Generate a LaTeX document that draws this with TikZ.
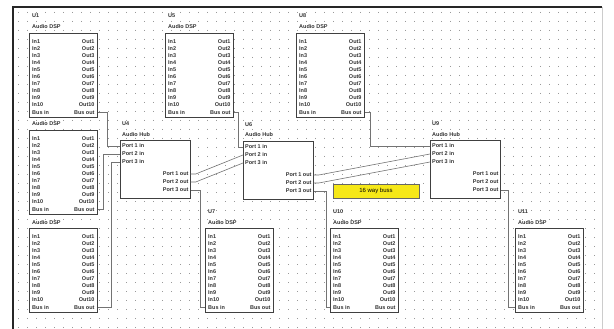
\documentclass[tikz,border=0pt]{standalone}
\usepackage{fontspec}
\setsansfont{Liberation Sans}
\usetikzlibrary{calc}
\definecolor{busyellow}{RGB}{246,232,24}

\begin{document}
\begin{tikzpicture}[x=1pt, y=-1pt, font=\sffamily]
      \tikzstyle{dsp}=[draw=black!75, line width=0.7pt, fill=white, anchor=north west, inner sep=0pt, minimum width=68pt, minimum height=84pt]
      \tikzstyle{hub}=[dsp, minimum width=70pt, minimum height=58pt]
      \tikzstyle{pin}=[inner sep=0pt, text=black!80, font=\sffamily\bfseries\fontsize{5.5}{6}\selectfont]
      \tikzstyle{title}=[pin, anchor=base west]
      \tikzstyle{wire}=[draw=black!55, line width=0.6pt]
      \tikzstyle{buslabel}=[fill=busyellow, draw=black!60, minimum width=86pt, minimum height=14pt, inner sep=0pt, font=\sffamily\fontsize{6}{7}\selectfont]
      \useasboundingbox (0,0) rectangle (614,329);
      \fill[white] (0,0) rectangle (614,329);
      % dotted grid
      \foreach \gx in {18,27,...,598}
        \draw[black!40, line width=0.9pt, dash pattern=on 0.9pt off 8.1pt] (\gx,12) -- (\gx,329);
      % window frame
      \draw[black!20] (13,7) -- (602,7) -- (602,329);
      \draw[black!85, line width=2pt] (13,329) -- (13,7) -- (602,7);
      % DSP chips
      \foreach \n/\cx/\cy/\tag in {U1/29/33/U1, U2/29/130/, U3/29/228/, U5/165/33/U5, U8/296/33/U8, U7/205/228/U7, U10/330/228/U10, U11/515/228/U11} {
        \node[dsp] (\n) at (\cx,\cy) {};
        \node[title] (\n-ref) at ($(\n.north west)+(3,-15)$) {\tag};
        \node[title] (\n-type) at ($(\n.north west)+(3,-4)$) {Audio DSP};
        \foreach \i in {1,...,10} {
          \node[pin, anchor=west] (\n-l\i) at ($(\n.north west)+(3,2+7*\i)$) {In\i};
          \node[pin, anchor=east] (\n-r\i) at ($(\n.north east)+(-3,2+7*\i)$) {Out\i};
        }
        \coordinate (\n-bin) at ($(\n.south west)+(0,-5)$);
        \coordinate (\n-bout) at ($(\n.south east)+(0,-5)$);
        \node[pin, anchor=west] (\n-lb) at ($(\n-bin)+(3,0)$) {Bus in};
        \node[pin, anchor=east] (\n-rb) at ($(\n-bout)+(-3,0)$) {Bus out};
      }
      % hubs
      \foreach \n/\cx/\cy in {U4/120/140, U6/243/141, U9/430/140} {
        \node[hub] (\n) at (\cx,\cy) {};
        \node[title] (\n-ref) at ($(\n.north west)+(2,-14)$) {\n};
        \node[title] (\n-type) at ($(\n.north west)+(2,-4)$) {Audio Hub};
        \foreach \i/\py in {1/6,2/14,3/22} {
          \coordinate (\n-in\i) at ($(\n.north west)+(0,\py)$);
          \node[pin, anchor=west] (\n-il\i) at ($(\n-in\i)+(2,0)$) {Port \i\ in};
        }
        \foreach \i/\py in {1/34,2/42,3/50} {
          \coordinate (\n-out\i) at ($(\n.north east)+(0,\py)$);
          \node[pin, anchor=east] (\n-ol\i) at ($(\n-out\i)+(-2,0)$) {Port \i\ out};
        }
      }
      \node[buslabel] (bus) at (376,191) {16 way buss};
      % wiring
      \draw[wire] (U1-bout) -- ++(10,0) |- (U4-in1);
      \draw[wire] (U2-bout) -- ++(6,0) |- (U4-in2);
      \draw[wire] (U3-bout) -- ++(14,0) |- (U4-in3);
      \draw[wire] (U5-bout) -- ++(5,0) |- (U6-in1);
      \draw[wire] (U8-bout) -- ++(6,0) |- (U9-in1);
      \draw[wire] (U4-out1) -- ++(5,0) -- (U6-in2);
      \draw[wire] (U4-out2) -- ++(5,0) -- (U6-in3);
      \draw[wire] (U4-out3) -- ++(10,0) |- (U7-bin);
      \draw[wire] (U6-out1) -- ++(5,0) -- (U9-in2);
      \draw[wire] (U6-out2) -- ++(5,0) -- (U9-in3);
      \draw[wire] (U6-out3) -- ++(13,0) |- (U10-bin);
      \draw[wire] (U9-out3) -- ++(8,0) |- (U11-bin);
    \end{tikzpicture}
\end{document}
